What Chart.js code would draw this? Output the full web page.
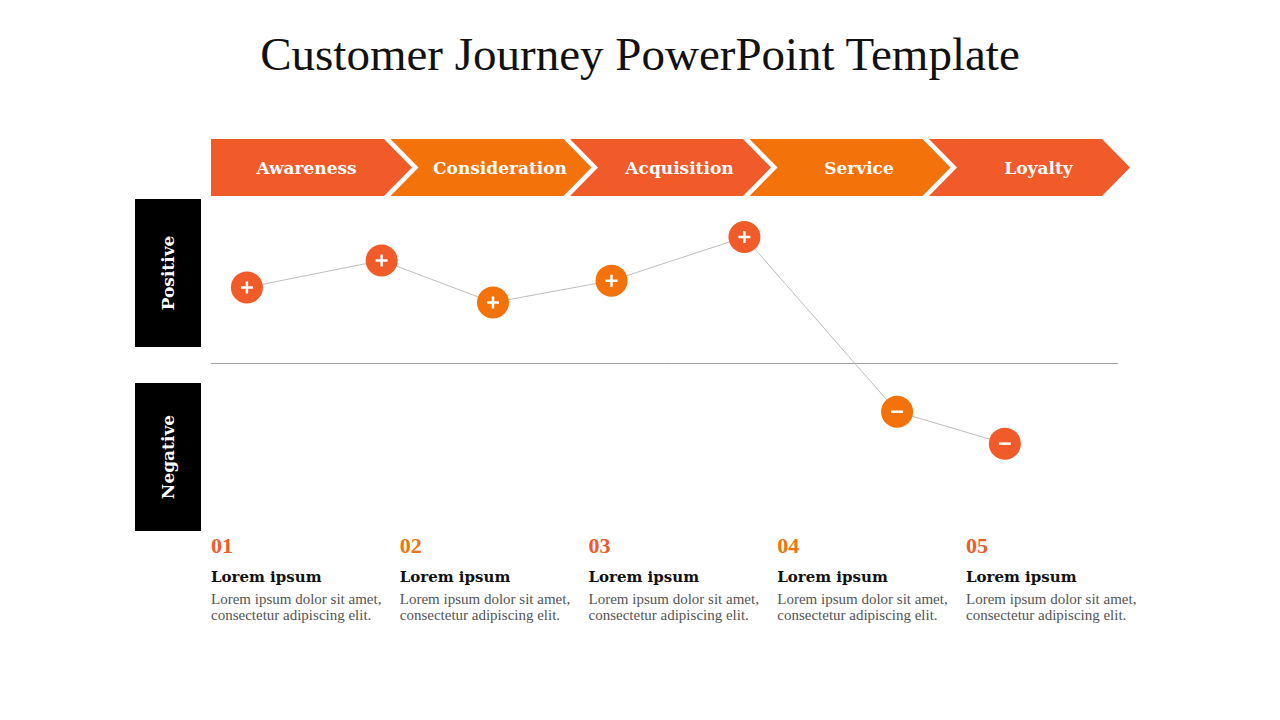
<!DOCTYPE html>
<html lang="en">
<head>
<meta charset="UTF-8">
<title>Customer Journey PowerPoint Template</title>
<script src="https://cdn.jsdelivr.net/npm/chart.js"></script>
<style>
  body { margin: 0; width: 1280px; height: 720px; background: #fff; position: relative; overflow: hidden; font-family: "Liberation Serif", "DejaVu Serif", serif; }
  h1 { position: absolute; top: 27px; left: 0; width: 1280px; margin: 0; text-align: center; font-weight: normal; font-size: 47px; color: #111; }
  .stage { position: absolute; top: 139px; height: 57px; width: 201px; box-sizing: border-box; padding: 0 10px 0 28px; display: flex; align-items: center; justify-content: center; color: #fff; font-family: "DejaVu Serif", serif; font-weight: bold; font-size: 17px; }
  .stage.first { padding-left: 0; }
  .side { position: absolute; left: 135px; width: 66px; height: 148px; background: #000; }
  .side span { position: absolute; left: 50%; top: 50%; transform: translate(-50%, -50%) rotate(-90deg); color: #fff; font-family: "DejaVu Serif", serif; font-weight: bold; font-size: 17px; white-space: nowrap; }
  #chartBox { position: absolute; left: 211px; top: 195px; width: 907px; height: 336px; }
  .step { position: absolute; top: 533px; width: 185px; }
  .step .num { font-size: 22px; font-weight: bold; line-height: 26px; }
  .step .head { margin-top: 8px; font-family: "DejaVu Serif", serif; font-size: 15px; font-weight: bold; color: #111; line-height: 20px; }
  .step .body { margin-top: 4px; font-size: 15px; color: #555; line-height: 16px; }
</style>
</head>
<body>
<h1>Customer Journey PowerPoint Template</h1>
<div id="stages"></div>
<div class="side" style="top:199px"><span>Positive</span></div>
<div class="side" style="top:383px"><span>Negative</span></div>
<div id="chartBox"><canvas id="journey"></canvas></div>
<div id="steps"></div>
<script>
  const RED = '#F15A29';
  const ORANGE = '#F37209';

  // journey stages (banner)
  const stages = ['Awareness', 'Consideration', 'Acquisition', 'Service', 'Loyalty'];
  const stageColors = [RED, ORANGE, RED, ORANGE, RED];

  // touchpoints: position along the journey (stage units) and sentiment score
  const journeyPos = [0.2, 0.95, 1.57, 2.23, 2.97, 3.82, 4.42];
  const scores = [4.5, 6.1, 3.6, 4.9, 7.5, -2.9, -4.8];
  const pointColors = [RED, RED, ORANGE, ORANGE, RED, ORANGE, RED];

  // bottom notes
  const stepNums = ['01', '02', '03', '04', '05'];
  const stepColors = [RED, ORANGE, RED, ORANGE, RED];
  const stepHeads = ['Lorem ipsum', 'Lorem ipsum', 'Lorem ipsum', 'Lorem ipsum', 'Lorem ipsum'];
  const stepBody = 'Lorem ipsum dolor sit amet,<br>consectetur adipiscing elit.';

  // banner chevrons
  var stageBox = document.getElementById('stages');
  stages.forEach(function(name, i) {
    var d = document.createElement('div');
    d.className = 'stage' + (i === 0 ? ' first' : '');
    d.style.left = (211 + i * 179.5) + 'px';
    d.style.background = stageColors[i];
    d.style.clipPath = i === 0
      ? 'polygon(0 0, 173px 0, 201px 50%, 173px 100%, 0 100%)'
      : 'polygon(0 0, 173px 0, 201px 50%, 173px 100%, 0 100%, 28px 50%)';
    d.textContent = name;
    stageBox.appendChild(d);
  });

  var stepBox = document.getElementById('steps');
  stepNums.forEach(function(n, i) {
    var d = document.createElement('div');
    d.className = 'step';
    d.style.left = (211 + i * 188.75) + 'px';
    d.innerHTML = '<div class="num" style="color:' + stepColors[i] + '">' + n + '</div>' +
      '<div class="head">' + stepHeads[i] + '</div>' +
      '<div class="body">' + stepBody + '</div>';
    stepBox.appendChild(d);
  });

  // white + / - inside each marker
  const signPlugin = {
    id: 'signs',
    afterDatasetsDraw(chart) {
      var ctx = chart.ctx;
      var meta = chart.getDatasetMeta(0);
      ctx.save();
      ctx.strokeStyle = '#fff';
      ctx.lineWidth = 2.5;
      meta.data.forEach(function(pt, i) {
        var a = 6;
        ctx.beginPath();
        ctx.moveTo(pt.x - a, pt.y);
        ctx.lineTo(pt.x + a, pt.y);
        if (scores[i] > 0) {
          ctx.moveTo(pt.x, pt.y - a);
          ctx.lineTo(pt.x, pt.y + a);
        }
        ctx.stroke();
      });
      ctx.restore();
    }
  };

  new Chart(document.getElementById('journey'), {
    type: 'scatter',
    data: {
      datasets: [{
        data: journeyPos.map(function(x, i) { return { x: x, y: scores[i] }; }),
        showLine: true,
        borderColor: '#BDBDBD',
        borderWidth: 1,
        pointRadius: 16,
        pointHoverRadius: 16,
        pointBackgroundColor: pointColors,
        pointBorderWidth: 0,
        clip: false
      }]
    },
    options: {
      responsive: true,
      maintainAspectRatio: false,
      animation: false,
      layout: { padding: 0, autoPadding: false },
      plugins: { legend: { display: false }, tooltip: { enabled: false } },
      scales: {
        x: { type: 'linear', min: 0, max: 5.05, display: false },
        y: {
          min: -10, max: 10,
          ticks: { display: false },
          border: { display: false },
          grid: {
            drawTicks: false,
            lineWidth: 1,
            color: function(c) { return c.tick && c.tick.value === 0 ? '#A0A0A0' : 'rgba(0,0,0,0)'; }
          }
        }
      }
    },
    plugins: [signPlugin]
  });
</script>
</body>
</html>
